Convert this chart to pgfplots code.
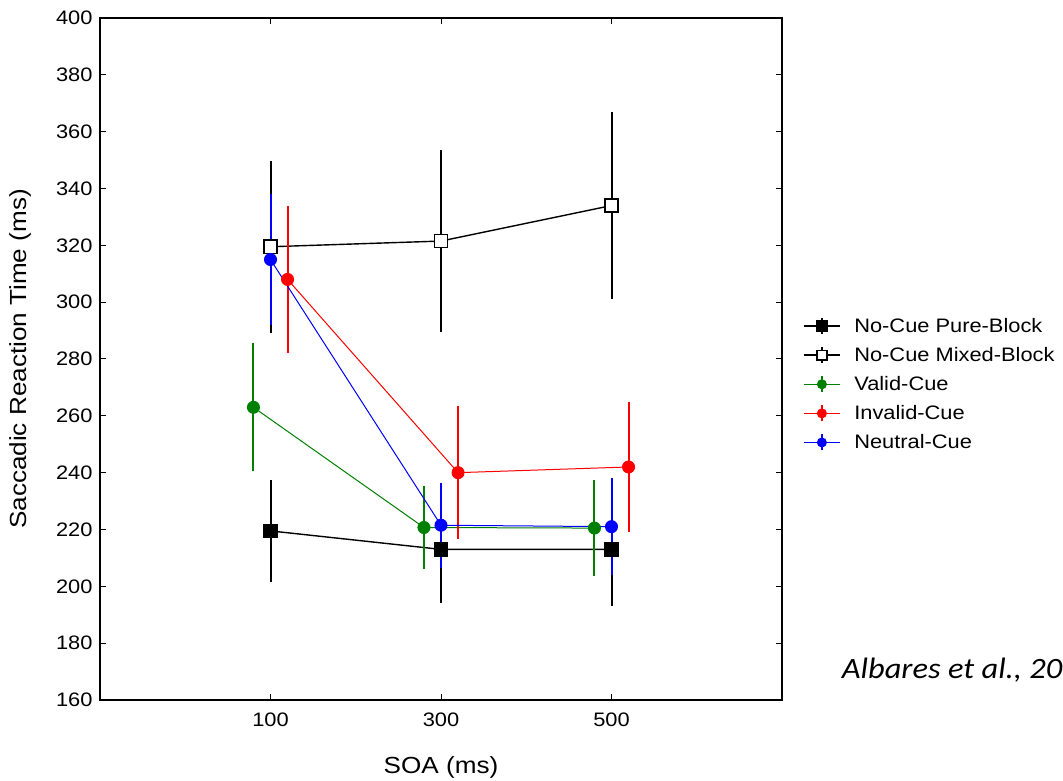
\documentclass[border=0pt]{standalone}
\usepackage{pgfplots}
\pgfplotsset{compat=1.18}
\usepackage{fontspec}
\setmainfont[FakeStretch=1.12]{Liberation Sans}
\newfontfamily\notefont[FakeStretch=1.10]{Carlito}
\definecolor{vgreen}{RGB}{0,128,0}
\definecolor{ired}{RGB}{255,0,0}
\definecolor{nblue}{RGB}{0,0,255}

\pgfplotstableread{
x y e
100 219.5 18
300 213 19
500 213 20
}\purebl
\pgfplotstableread{
x y e
100 319.5 30.3
300 321.5 32
500 334 33
}\mixedbl
\pgfplotstableread{
x y e
80 263 22.5
280 220.7 14.7
480 220.5 17
}\valid
\pgfplotstableread{
x y e
120 308 26
320 240 23.3
520 242 23
}\invalid
\pgfplotstableread{
x y e
100 315 23
300 221.5 15
500 221 17
}\neutral

\pgfplotsset{eb/.style={error bars/.cd, y dir=both, y explicit, error mark=none,
  error bar style={line width=2pt, solid}}}

\begin{document}
\begin{tikzpicture}
\useasboundingbox (0,0) rectangle (1063pt,781pt);
\begin{axis}[
  at={(100pt,81pt)}, anchor=south west,
  width=682pt, height=682pt, scale only axis,
  xmin=-100, xmax=700, ymin=160, ymax=400,
  xtick={100,300,500}, ytick={160,180,...,400},
  major tick length=6pt,
  tick style={black, line width=1pt},
  axis line style={line width=1.5pt},
  /pgf/number format/assume math mode=true,
  tick label style={font=\fontsize{19.5}{20}\selectfont},
  yticklabel style={xshift=-4pt},
  xticklabel style={yshift=-9.5pt},
  xlabel={SOA (ms)}, ylabel={Saccadic Reaction Time (ms)},
  every axis x label/.style={at={(axis description cs:0.5,-0.1075)}, anchor=base, font=\fontsize{23.3}{25}\selectfont},
  every axis y label/.style={at={(axis description cs:-0.1173,0.5)}, anchor=center, rotate=90, font=\fontsize{23.3}{25}\selectfont},
  legend cell align=left,
  legend style={at={(axis description cs:1,0.5616)}, anchor=north west, xshift=20.7pt,
    draw=none, fill=none, inner sep=0pt, row sep=11.3pt, column sep=13.4pt,
    font=\fontsize{19.5}{20}\selectfont, nodes={inner sep=0pt}},
  legend image code/.code={
    \draw[#1, mark=none] (0pt,0pt) -- (36.6pt,0pt);
    \draw[#1, mark=none, line width=1.8pt] (18.3pt,-8pt) -- (18.3pt,8pt);
    \draw[#1, every mark/.append style={scale=0.75}] plot coordinates {(18.3pt,0pt)};
  },
]
\addplot[black, line width=1.4pt, mark=square*, mark size=6.6pt, mark options={solid, fill=black}, eb]
  table[x=x, y=y, y error=e] {\purebl};
\addlegendentry{No-Cue Pure-Block}
\addplot[black, line width=1.4pt, mark=square*, mark size=6.6pt, mark options={solid, fill=white, line width=1.4pt}, eb]
  table[x=x, y=y, y error=e] {\mixedbl};
\addlegendentry{No-Cue Mixed-Block}
\addplot[vgreen, line width=1pt, mark=*, mark size=6pt, mark options={solid, fill=vgreen, draw=vgreen}, eb]
  table[x=x, y=y, y error=e] {\valid};
\addlegendentry{Valid-Cue}
\addplot[ired, line width=1pt, mark=*, mark size=6pt, mark options={solid, fill=ired, draw=ired}, eb]
  table[x=x, y=y, y error=e] {\invalid};
\addlegendentry{Invalid-Cue}
\addplot[nblue, line width=1pt, mark=*, mark size=6pt, mark options={solid, fill=nblue, draw=nblue}, eb]
  table[x=x, y=y, y error=e] {\neutral};
\addlegendentry{Neutral-Cue}
\end{axis}
\node[font=\notefont\itshape\fontsize{29.5}{31}\selectfont, anchor=base west, inner sep=0pt] at (841.7pt,102.7pt) {Albares et al., 2011};
\end{tikzpicture}
\end{document}
